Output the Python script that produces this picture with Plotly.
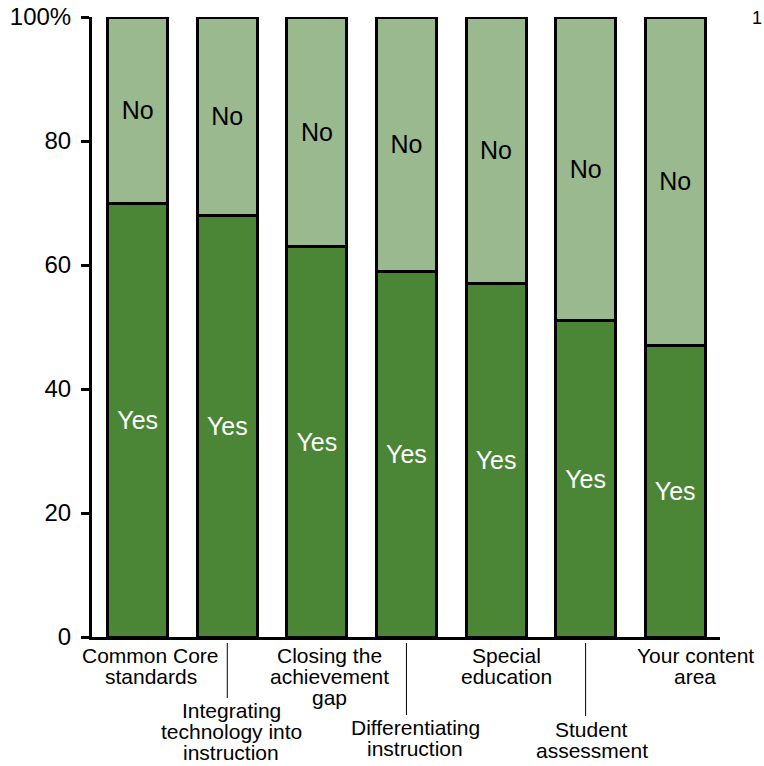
import plotly.graph_objects as go

categories = ["Common Core\nstandards", "Integrating\ntechnology into\ninstruction",
              "Closing the\nachievement\ngap", "Differentiating\ninstruction",
              "Special\neducation", "Student\nassessment", "Your content\narea"]
yes_vals = [70, 68, 63, 59, 57, 51, 47]
no_vals = [100 - v for v in yes_vals]
tick_vals = [0, 20, 40, 60, 80, 100]
tick_text = ["0", "20", "40", "60", "80", "100%"]

# label layout (pixels): x shift from bar centre, first-line centre below the axis, leader line end
label_xshift = [13, 4, 13, 9, 10, 6, 20]
label_first_line = [18, 73, 18, 90, 18, 92, 18]
leader_end = [None, 61, None, 78, None, 79, None]
LINE_STEP = 21

DARK = "#4b8536"
LIGHT = "#9bb98e"
FONT = "Liberation Sans, Arial, sans-serif"

x = list(range(len(categories)))

fig = go.Figure()
fig.add_trace(go.Bar(x=x, y=yes_vals, width=0.67, marker=dict(color=DARK, line=dict(color="black", width=3)),
                     text=["Yes"] * len(x), textposition="inside", insidetextanchor="middle",
                     textfont=dict(color="white", size=25, family=FONT), hoverinfo="skip"))
fig.add_trace(go.Bar(x=x, y=no_vals, width=0.67, marker=dict(color=LIGHT, line=dict(color="black", width=3)),
                     text=["No"] * len(x), textposition="inside", insidetextanchor="middle",
                     textfont=dict(color="black", size=25, family=FONT), hoverinfo="skip"))

PLOT_H = 620
annotations = []
shapes = []
for i, cat in enumerate(categories):
    for j, line in enumerate(cat.split("\n")):
        annotations.append(dict(x=i, y=0, xref="x", yref="paper", text=line, showarrow=False,
                                xanchor="center", yanchor="middle", xshift=label_xshift[i],
                                yshift=-(label_first_line[i] + j * LINE_STEP),
                                font=dict(size=21, family=FONT, color="black")))
    if leader_end[i] is not None:
        shapes.append(dict(type="line", xref="x", yref="paper", x0=i, x1=i, y0=-6 / PLOT_H,
                           y1=-leader_end[i] / PLOT_H, line=dict(color="black", width=1)))

annotations.append(dict(x=1, y=1, xref="paper", yref="paper", text="1", showarrow=False,
                        xanchor="center", yanchor="middle", xshift=37, yshift=-1,
                        font=dict(size=18, family=FONT, color="black")))

fig.update_layout(
    width=764, height=766,
    margin=dict(l=92, r=44, t=17, b=129, autoexpand=False),
    paper_bgcolor="white", plot_bgcolor="white",
    barmode="stack", showlegend=False,
    annotations=annotations, shapes=shapes,
    xaxis=dict(range=[-0.51, 6.5], showticklabels=False, ticks="", showgrid=False, zeroline=False,
               showline=True, linecolor="black", linewidth=3, automargin=False),
    yaxis=dict(range=[0, 100], tickvals=tick_vals, ticktext=tick_text, ticks="outside", ticklen=8,
               tickwidth=3, tickcolor="black", showgrid=False, zeroline=False, showline=True,
               linecolor="black", linewidth=3, ticklabelstandoff=5, automargin=False,
               tickfont=dict(size=24, family=FONT, color="black")),
    uniformtext=dict(mode=False),
)

fig.write_html("out.html")
